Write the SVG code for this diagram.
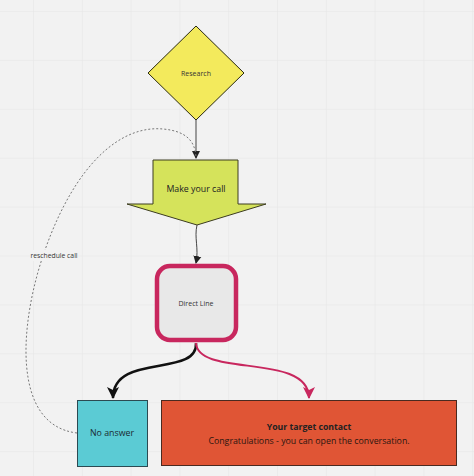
<svg xmlns="http://www.w3.org/2000/svg" width="474" height="476" viewBox="0 0 474 476">
<style>
text{font-family:"Open Sans","Noto Sans","DejaVu Sans",sans-serif;text-anchor:middle;dominant-baseline:central}
.thin{fill:none;stroke:#444;stroke-width:1}
</style>
<defs>
<pattern id="grid" x="33" y="11" width="48.8" height="48.9" patternUnits="userSpaceOnUse">
<path d="M0,0 H48.8 M0,0 V48.9" fill="none" stroke="#e6e6e6" stroke-width="1.2"/>
</pattern>
<marker id="ah" markerUnits="userSpaceOnUse" markerWidth="8" markerHeight="10" refX="7" refY="4" orient="auto" viewBox="0 0 8 8">
<path d="M0,0 L8,4 L0,8 Z" fill="#222"/>
</marker>
<marker id="ahb" markerUnits="userSpaceOnUse" markerWidth="12" markerHeight="12" refX="11" refY="6" orient="auto" viewBox="0 0 12 12">
<path d="M0,0 L12,6 L0,12 L3,6 Z" fill="#111"/>
</marker>
<marker id="ahp" markerUnits="userSpaceOnUse" markerWidth="12" markerHeight="12" refX="11" refY="6" orient="auto" viewBox="0 0 12 12">
<path d="M0,0 L12,6 L0,12 L3,6 Z" fill="#c8275e"/>
</marker>
</defs>
<rect width="474" height="476" fill="#f2f2f2"/>
<rect width="474" height="476" fill="url(#grid)"/>
<g id="connectors">
<path class="thin" d="M196,120 V158" marker-end="url(#ah)"/>
<path class="thin" d="M197,225 C194,238 199,248 196,263" marker-end="url(#ah)"/>
<path d="M77,433 C10,425 20,320 45,250 C75,165 120,125 163,129 C185,131 195,140 196,157" fill="none" stroke="#777" stroke-width="1" stroke-dasharray="2 2"/>
<path d="M196,343 C198,378 113,352 113,398" fill="none" stroke="#111" stroke-width="2.5" marker-end="url(#ahb)"/>
<path d="M196,343 C198,378 309,352 309,398" fill="none" stroke="#c8275e" stroke-width="2" marker-end="url(#ahp)"/>
<rect x="30" y="250" width="48" height="11" fill="#f2f2f2"/>
<text x="54" y="255.5" font-size="6.8" fill="#333">reschedule call</text>
</g>
<g id="research">
<polygon points="196,26 244,73 196,120 148,73" fill="#f3ea5c" stroke="#2a2a10" stroke-width="1"/>
<text x="196" y="73" font-size="7" fill="#333">Research</text>
</g>
<g id="make-call">
<polygon points="153,160 238,160 238,204 266,204 197,225 127,204 153,204" fill="#d5e35b" stroke="#3c3c20" stroke-width="1"/>
<text x="196" y="189" font-size="8.8" fill="#222">Make your call</text>
</g>
<g id="direct-line">
<rect x="157" y="266" width="79" height="74" rx="13" fill="#e8e8e8" stroke="#c8275e" stroke-width="4.5"/>
<text x="196" y="303" font-size="7" fill="#333">Direct Line</text>
</g>
<g id="no-answer">
<rect x="77.5" y="400.5" width="70" height="66" fill="#5bcbd4" stroke="#2c4a52" stroke-width="1"/>
<text x="112" y="433" font-size="8.8" fill="#1a2a30">No answer</text>
</g>
<g id="target-contact">
<rect x="161.5" y="400.5" width="295" height="65" fill="#e05535" stroke="#4a2a20" stroke-width="1"/>
<text x="309" y="427" font-size="8.7" font-weight="bold" fill="#222">Your target contact</text>
<text x="309" y="441" font-size="8.8" fill="#2a1510">Congratulations - you can open the conversation.</text>
</g>
</svg>
